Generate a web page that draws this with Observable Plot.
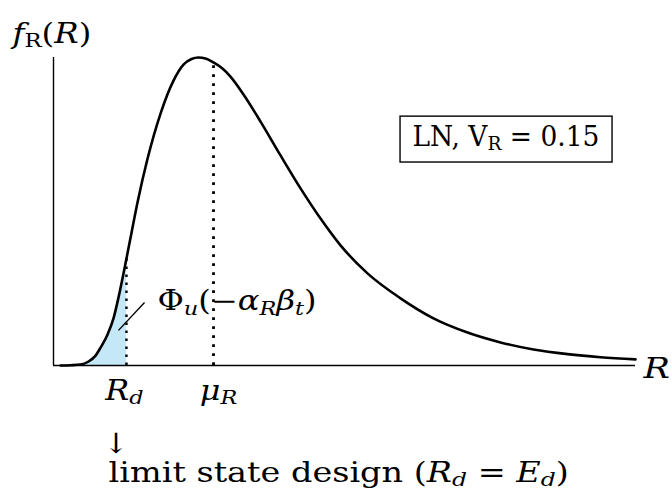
<!DOCTYPE html>
<html><head><meta charset="utf-8">
<script src="https://cdn.jsdelivr.net/npm/d3@7"></script>
<script src="https://cdn.jsdelivr.net/npm/@observablehq/plot@0.6"></script>
<style>html,body{margin:0;padding:0;background:#fff;}</style>
</head><body><div id="chart"></div>
<script>
// Resistance values (μ_R = 1) and normalised density
const curveR = [0.044,0.106,0.169,0.219,0.263,0.294,0.338,0.375,0.413,0.456,0.488,0.525,0.588,0.669,0.75,0.8125,0.8625,0.906,0.95,1.0,1.056,1.106,1.1875,1.294,1.419,1.544,1.669,1.794,1.9625,2.169,2.375,2.5875,2.794,3.0,3.2125,3.419,3.6375];
const curveF = [0,0.001,0.003,0.013,0.032,0.058,0.101,0.153,0.237,0.347,0.432,0.529,0.672,0.818,0.925,0.977,0.995,1.0,0.997,0.984,0.964,0.938,0.880,0.792,0.682,0.575,0.477,0.390,0.299,0.218,0.153,0.107,0.075,0.052,0.037,0.027,0.02];
const Rd = 0.456;
const muR = 1.0;
const Rmax = 3.6375;
const fTop = 1.0;

// label texts (markup: *italic*, _{subscript})
const yLabel = "*f*_{R}(*R*)";
const xLabel = "*R*";
const RdLabel = "*R*_{*d*}";
const muLabel = "*μ*_{*R*}";
const phiLabel = "Φ_{*u*}(−*α*_{*R*}*β*_{*t*})";
const arrowLabel = "↓";
const designLabel = "limit state design (*R*_{*d*} = *E*_{*d*})";
const boxLabel = "LN, V_{R} = 0.15";

const data = curveR.map((R, i) => ({R, f: curveF[i]}));
const fAt = r => data.find(d => d.R === r).f;

const FS = 27;
const ann = [
  {t: yLabel, x: -0.256, y: 1.0487, a: "start", dx: 0, fs: FS, sx: 1.2},
  {t: xLabel, x: Rmax, y: -0.0422, a: "start", dx: 8, fs: FS, sx: 1.3},
  {t: RdLabel, x: Rd, y: -0.1104, a: "middle", dx: -2, fs: FS, sx: 1.18},
  {t: muLabel, x: muR, y: -0.1104, a: "middle", dx: 5, fs: FS, sx: 1.18},
  {t: arrowLabel, x: 0.39, y: -0.2825, a: "middle", dx: 0, fs: 28, sx: 1.1},
  {t: designLabel, x: 0.344, y: -0.377, a: "start", dx: 0, fs: FS, sx: 1.24},
  {t: phiLabel, x: 0.65, y: 0.1786, a: "start", dx: 0, fs: FS, sx: 1.19},
  {t: boxLabel, x: 2.244, y: 0.714, a: "start", dx: 0, fs: FS, sx: 0.98}
];

const plot = Plot.plot({
  width: 672, height: 489,
  margin: 0,
  x: {domain: [-53/160, (672-53)/160], axis: null},
  y: {domain: [(365-489)/308, 365/308], axis: null},
  style: {fontFamily: "DejaVu Serif", background: "white"},
  marks: [
    Plot.areaY(data.filter(d => d.R <= Rd), {x: "R", y: "f", fill: "#c4e8f7", curve: "monotone-x"}),
    Plot.ruleY([0], {x1: 0, x2: Rmax, stroke: "black", strokeWidth: 1.4}),
    Plot.ruleX([0], {y1: 0, y2: fTop, stroke: "black", strokeWidth: 1.4}),
    Plot.ruleX([Rd], {y1: 0, y2: fAt(Rd), stroke: "black", strokeWidth: 2.4, strokeDasharray: "2.4 5.6"}),
    Plot.ruleX([muR], {y1: 0, y2: fAt(muR), stroke: "black", strokeWidth: 2.8, strokeDasharray: "2.8 6.2"}),
    Plot.line(data, {x: "R", y: "f", stroke: "black", strokeWidth: 2.6, curve: "monotone-x"}),
    Plot.link([{x1: 0.569, y1: 0.2045, x2: 0.406, y2: 0.114}], {x1: "x1", y1: "y1", x2: "x2", y2: "y2", stroke: "black", strokeWidth: 1.4}),
    Plot.rect([{x1: 2.169, x2: 3.494, y1: 0.659, y2: 0.808}], {x1: "x1", x2: "x2", y1: "y1", y2: "y2", fill: "none", stroke: "black", strokeWidth: 1.4}),
    ...ann.map((d, i) => Plot.text([d], {x: "x", y: "y", text: "t", textAnchor: d.a, dx: d.dx, lineAnchor: "bottom", fontSize: d.fs, fill: "black", fontFamily: "DejaVu Serif", ariaLabel: "lbl" + i}))
  ]
});

// turn the tiny markup into styled tspans
function parse(s) {
  const out = []; let italic = false, sub = false, buf = "";
  const flush = () => { if (buf) out.push({text: buf, italic, sub}); buf = ""; };
  for (let i = 0; i < s.length; i++) {
    const c = s[i];
    if (c === "*") { flush(); italic = !italic; }
    else if (c === "_" && s[i+1] === "{") { flush(); sub = true; i++; }
    else if (c === "}" && sub) { flush(); sub = false; }
    else buf += c;
  }
  flush();
  return out;
}
const NS = "http://www.w3.org/2000/svg";
ann.forEach((d, i) => {
  let els = plot.querySelectorAll(`g[aria-label="lbl${i}"] text`);
  if (!els.length) els = [...plot.querySelectorAll("text")].filter(e => e.textContent === d.t);
  els.forEach(el => {
    const s = el.textContent;
    if (/[*_]/.test(s)) {
      const toks = parse(s);
      el.textContent = "";
      let prevSub = false;
      const shift = 0.16 * d.fs;
      toks.forEach(tk => {
        const ts = document.createElementNS(NS, "tspan");
        ts.textContent = tk.text;
        if (tk.italic) ts.setAttribute("font-style", "italic");
        if (tk.sub) ts.setAttribute("font-size", "70%");
        if (tk.sub && !prevSub) ts.setAttribute("dy", shift);
        if (!tk.sub && prevSub) ts.setAttribute("dy", -shift);
        prevSub = tk.sub;
        el.appendChild(ts);
      });
    }
    // horizontal stretch about the anchor point
    const tr = el.getAttribute("transform");
    if (tr && tr.includes("translate")) {
      el.setAttribute("transform", tr + ` scale(${d.sx},1)`);
    } else {
      const x = +(el.getAttribute("x") || 0);
      el.setAttribute("transform", `translate(${x},0) scale(${d.sx},1) translate(${-x},0)` + (tr ? " " + tr : ""));
    }
  });
});
document.getElementById("chart").appendChild(plot);
</script>
</body></html>
